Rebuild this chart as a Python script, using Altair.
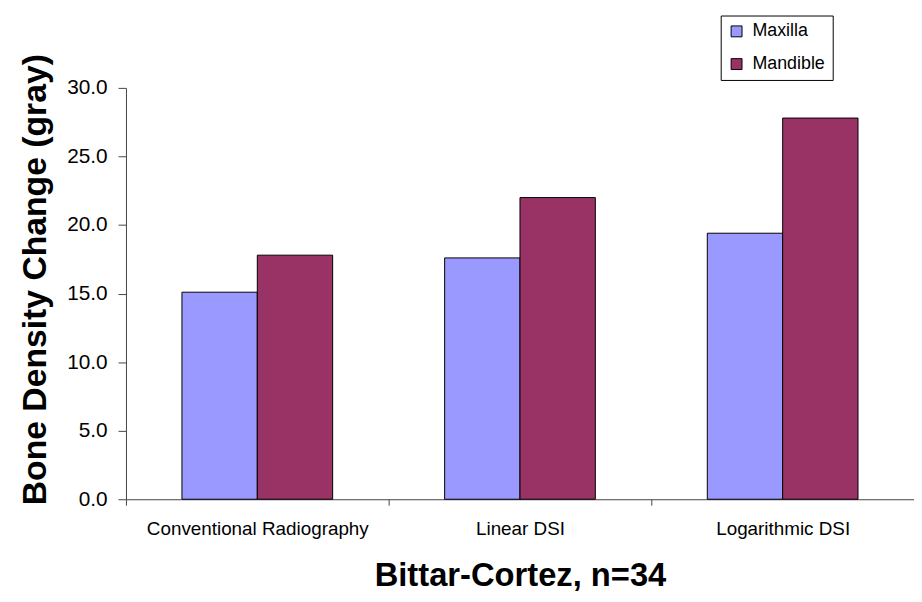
import altair as alt
import pandas as pd

categories = ["Conventional Radiography", "Linear DSI", "Logarithmic DSI"]
series = ["Maxilla", "Mandible"]
maxilla = [15.1, 17.6, 19.4]
mandible = [17.8, 22.0, 27.8]
colors = ["#9999FF", "#993366"]
y_ticks = [0, 5, 10, 15, 20, 25, 30]

rows = []
for c, v in zip(categories, maxilla):
    rows.append({"category": c, "series": "Maxilla", "value": v})
for c, v in zip(categories, mandible):
    rows.append({"category": c, "series": "Mandible", "value": v})
df = pd.DataFrame(rows)

FONT = "Liberation Sans, Arial, sans-serif"

chart = alt.Chart(df).mark_bar(stroke="black", strokeWidth=1).encode(
    x=alt.X(
        "category:N",
        sort=categories,
        scale=alt.Scale(paddingInner=0, paddingOuter=0),
        axis=alt.Axis(
            title="Bittar-Cortez, n=34",
            titleFontSize=33,
            titleFontWeight="bold",
            titleFont=FONT,
            titleColor="black",
            titleY=87,
            titleBaseline="alphabetic",
            labelAngle=0,
            labelFontSize=19,
            labelFont=FONT,
            labelColor="black",
            labelPadding=15,
            labelLimit=400,
            tickBand="extent",
            tickSize=6,
            tickColor="#444444",
            domainColor="#444444",
            grid=False,
        ),
    ),
    xOffset=alt.XOffset(
        "series:N",
        sort=series,
        scale=alt.Scale(paddingInner=0, paddingOuter=0.743),
    ),
    y=alt.Y(
        "value:Q",
        scale=alt.Scale(domain=[0, 30], nice=False),
        axis=alt.Axis(
            title="Bone Density Change (gray)",
            titleFontSize=34,
            titleFontWeight="bold",
            titleFont=FONT,
            titleColor="black",
            titleX=-81,
            titleY=193,
            titleBaseline="alphabetic",
            values=y_ticks,
            format=".1f",
            labelFontSize=21,
            labelFont=FONT,
            labelColor="black",
            labelPadding=11,
            tickSize=8,
            tickColor="#444444",
            domainColor="#444444",
            grid=False,
        ),
    ),
    color=alt.Color(
        "series:N",
        sort=series,
        scale=alt.Scale(domain=series, range=colors),
        legend=alt.Legend(
            title=None,
            orient="none",
            legendX=600,
            legendY=-73,
            strokeColor="black",
            padding=7,
            symbolType="square",
            symbolSize=121,
            symbolStrokeColor="black",
            symbolStrokeWidth=1,
            labelFontSize=18,
            labelFont=FONT,
            labelColor="black",
            labelOffset=7,
            rowPadding=15,
        ),
    ),
).properties(
    width=795,
    height=415,
    padding={"left": 119, "top": 78, "right": 0, "bottom": 93},
    autosize=alt.AutoSizeParams(type="none"),
).configure_view(stroke=None)

chart.save("out.html", embed_options={"renderer": "svg", "actions": False})
